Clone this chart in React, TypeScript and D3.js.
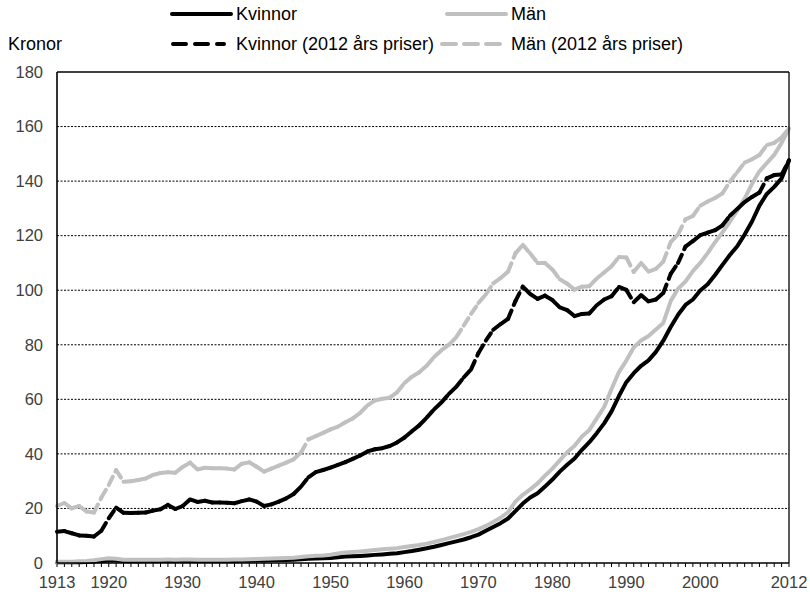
import React from "react";
import * as d3 from "d3";

const startYear = 1913;
const endYear = 2012;

const kvinnor = [
  0.24, 0.25, 0.27, 0.31, 0.38, 0.52, 0.72, 0.92, 0.9, 0.72,
  0.68, 0.68, 0.7, 0.71, 0.72, 0.77, 0.71, 0.73, 0.78, 0.74,
  0.74, 0.73, 0.74, 0.74, 0.75, 0.79, 0.83, 0.88, 0.92, 1.0,
  1.06, 1.13, 1.21, 1.36, 1.55, 1.68, 1.74, 1.82, 2.1, 2.38,
  2.48, 2.6, 2.76, 2.98, 3.14, 3.36, 3.56, 3.98, 4.38, 4.88,
  5.38, 5.96, 6.62, 7.28, 7.92, 8.62, 9.45, 10.4, 11.8, 13.2,
  14.6, 16.3, 19.0, 21.8, 24.0, 25.6, 28.0, 30.6, 33.5, 36.0,
  38.3, 41.5, 44.3, 47.6, 51.2, 55.6, 61.2, 66.3, 69.6, 72.3,
  74.3, 77.4, 81.5, 86.5, 91.0, 94.6, 96.6, 99.9, 102.2, 105.6,
  109.3, 112.9, 116.1, 120.4, 125.2, 131.0, 135.3, 137.9, 141.0, 147.6,
];

const man = [
  0.44, 0.47, 0.5, 0.62, 0.72, 0.98, 1.42, 1.72, 1.58, 1.2,
  1.15, 1.15, 1.18, 1.2, 1.22, 1.24, 1.22, 1.25, 1.27, 1.2,
  1.18, 1.18, 1.19, 1.2, 1.24, 1.3, 1.35, 1.45, 1.55, 1.68,
  1.75, 1.85, 1.96, 2.2, 2.48, 2.68, 2.78, 3.0, 3.45, 3.85,
  4.05, 4.25, 4.5, 4.8, 5.02, 5.22, 5.45, 5.85, 6.25, 6.62,
  7.1, 7.7, 8.4, 9.1, 9.85, 10.6, 11.4, 12.4, 13.6, 15.0,
  16.6, 18.6, 22.5, 25.0, 27.0, 29.2, 32.0, 34.6, 37.6, 40.6,
  43.0, 46.4, 48.8, 53.0, 57.2, 63.8, 70.0, 74.2, 79.0, 81.6,
  83.2, 85.6, 88.0, 96.0, 100.6, 103.2, 107.0, 110.0, 113.6, 117.6,
  121.2, 125.1, 129.2, 133.6, 139.0, 143.6, 146.6, 149.6, 154.0, 159.3,
];

const kvinnor2012 = [
  11.5, 11.7, 10.9, 10.1, 10.0, 9.7, 11.8, 16.4, 20.3, 18.4,
  18.3, 18.4, 18.5, 19.2, 19.7, 21.3, 19.8, 20.9, 23.3, 22.4,
  22.8, 22.2, 22.2, 22.1, 21.9, 22.7, 23.3, 22.5, 20.9, 21.5,
  22.5, 23.7, 25.3, 28.0, 31.4, 33.3, 34.1, 35.0, 36.0, 37.0,
  38.2, 39.4, 40.9, 41.7, 42.1, 42.9, 44.2, 46.0, 48.3, 50.5,
  53.3, 56.3, 58.9, 62.0, 64.6, 68.0, 71.0, 77.0, 81.5, 85.5,
  87.6, 89.5, 96.0, 101.3, 98.6, 96.8, 98.0, 96.4, 93.7, 92.7,
  90.5, 91.3, 91.5, 94.5, 96.6, 97.8, 101.2, 100.1, 95.6, 98.2,
  95.9, 96.6, 99.0, 106.0, 110.0, 116.0, 118.0, 120.2, 121.1, 122.0,
  123.8, 127.3, 129.8, 132.3, 134.2, 135.8, 141.0, 142.2, 142.4, 147.6,
];

const man2012 = [
  20.9, 22.0, 20.0, 20.9, 18.9, 18.5, 24.0, 28.6, 34.1, 29.8,
  30.0, 30.4, 31.0, 32.3, 33.0, 33.3, 33.1, 35.2, 36.8, 34.3,
  34.9, 34.7, 34.7, 34.6, 34.3, 36.4, 36.9, 35.3, 33.5, 34.6,
  35.7, 36.8, 38.0, 40.5, 45.3, 46.5, 47.7, 49.0, 50.0, 51.6,
  53.0, 55.0, 57.8, 59.6, 60.2, 60.6, 62.6, 66.0, 68.3, 69.9,
  72.3, 75.5, 78.0, 80.0, 82.8, 87.0, 91.3, 95.3, 98.5, 102.5,
  104.5, 106.8, 113.5, 116.6, 113.5, 110.0, 110.0, 107.6, 104.0, 102.4,
  100.2, 101.3, 101.5, 104.3, 106.5, 108.8, 112.2, 112.0, 106.7, 110.0,
  106.8, 107.8, 110.5, 117.6, 120.5, 126.0, 127.2, 131.0, 132.5, 133.8,
  135.5, 139.8, 143.3, 146.8, 148.0, 149.6, 153.2, 154.0, 156.0, 159.3,
];

const yTicks = [0, 20, 40, 60, 80, 100, 120, 140, 160, 180];
const xLabels = [1913, 1920, 1930, 1940, 1950, 1960, 1970, 1980, 1990, 2000, 2012];

const W = 810;
const H = 594;
const margin = { left: 57, right: 21, top: 72, bottom: 31 };
const FONT = "'Liberation Sans', Arial, sans-serif";
const BLACK = "#000000";
const GRAY = "#c0c0c0";
const LW = 4;
const DASH = "9 6";

export default function App() {
  const years = d3.range(startYear, endYear + 1);
  const x = d3
    .scaleLinear()
    .domain([startYear, endYear])
    .range([margin.left, W - margin.right]);
  const y = d3
    .scaleLinear()
    .domain([0, 180])
    .range([H - margin.bottom, margin.top]);

  const line = d3
    .line<number>()
    .x((_, i) => x(years[i]))
    .y((d) => y(d));

  const segLine = d3
    .line<[number, number]>()
    .x((d) => x(d[0]))
    .y((d) => y(d[1]));

  const dashedSegments = (vals: number[], color: string, key: string) =>
    vals.slice(0, -1).map((v, i) => (
      <path
        key={`${key}-${i}`}
        d={segLine([
          [years[i], v],
          [years[i + 1], vals[i + 1]],
        ]) as string}
        fill="none"
        stroke={color}
        strokeWidth={LW}
        strokeDasharray={DASH}
        strokeLinecap="round"
      />
    ));

  const x0 = margin.left;
  const x1 = W - margin.right;
  const yTop = margin.top;
  const yBot = H - margin.bottom;

  return (
    <svg
      width={W}
      height={H}
      style={{ position: "absolute", left: 0, top: 0, background: "#fff" }}
      fontFamily={FONT}
    >
      <rect x={0} y={0} width={W} height={H} fill="#fff" />
      {/* legend */}
      <g>
        <line x1={172} x2={231} y1={14} y2={14} stroke={BLACK} strokeWidth={LW} strokeLinecap="round" />
        <text x={236} y={20} fontSize={18} fill="#000">Kvinnor</text>
        <line x1={447} x2={506} y1={14} y2={14} stroke={GRAY} strokeWidth={LW} strokeLinecap="round" />
        <text x={511} y={20} fontSize={18} fill="#000">Män</text>
        <line x1={173} x2={224} y1={44} y2={44} stroke={BLACK} strokeWidth={LW} strokeLinecap="round" strokeDasharray="13 9" />
        <text x={236} y={50} fontSize={18} fill="#000">Kvinnor (2012 års priser)</text>
        <line x1={442} x2={500} y1={44} y2={44} stroke={GRAY} strokeWidth={LW} strokeLinecap="round" strokeDasharray="14 8" />
        <text x={511} y={50} fontSize={18} fill="#000">Män (2012 års priser)</text>
        <text x={8} y={50} fontSize={18} fill="#000">Kronor</text>
      </g>

      {/* grid */}
      {yTicks
        .filter((t) => t > 0 && t < 180)
        .map((t) => (
          <line
            key={`g${t}`}
            x1={x0}
            x2={x1}
            y1={y(t)}
            y2={y(t)}
            stroke="#000"
            strokeWidth={1}
            strokeDasharray="2 1.5"
          />
        ))}

      {/* y labels */}
      {yTicks.map((t) => (
        <text
          key={`yl${t}`}
          x={43}
          y={y(t)}
          dy="0.35em"
          textAnchor="end"
          fontSize={16.5}
          fill="#404040"
        >
          {t}
        </text>
      ))}

      {/* x ticks */}
      {years.map((yr) => (
        <line key={`xt${yr}`} x1={x(yr)} x2={x(yr)} y1={yBot} y2={yBot + 4} stroke="#000" strokeWidth={1} />
      ))}
      {xLabels.map((yr) => (
        <text key={`xl${yr}`} x={x(yr)} y={588} textAnchor="middle" fontSize={16.5} fill="#404040">
          {yr}
        </text>
      ))}

      {/* series */}
      <path d={line(kvinnor) as string} fill="none" stroke={BLACK} strokeWidth={LW} strokeLinejoin="round" strokeLinecap="round" />
      <path d={line(man) as string} fill="none" stroke={GRAY} strokeWidth={LW} strokeLinejoin="round" strokeLinecap="round" />
      {dashedSegments(kvinnor2012, BLACK, "k")}
      {dashedSegments(man2012, GRAY, "m")}

      {/* frame */}
      <line x1={x0} x2={x1} y1={yTop} y2={yTop} stroke="#000" strokeWidth={1.3} />
      <line x1={x1} x2={x1} y1={yTop} y2={yBot} stroke="#000" strokeWidth={1.3} />
      <line x1={x0} x2={x0} y1={yTop} y2={yBot} stroke="#000" strokeWidth={1.6} />
      <line x1={x0} x2={x1} y1={yBot} y2={yBot} stroke="#000" strokeWidth={1.6} />
    </svg>
  );
}
